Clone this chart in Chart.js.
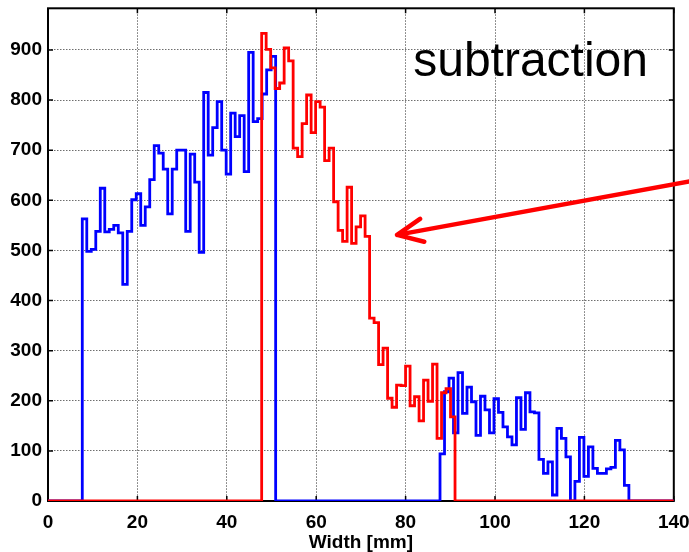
<!DOCTYPE html>
<html lang="en">
<head>
<meta charset="UTF-8">
<title>Width profile - subtraction</title>
<script src="https://cdn.jsdelivr.net/npm/chart.js@4.4.0/dist/chart.umd.min.js"></script>
<style>
  html, body { margin: 0; padding: 0; background: #fff; }
  canvas { display: block; }
</style>
</head>
<body>
<canvas id="profile" width="689" height="552"></canvas>
<script>
// histogram bins, widths in mm
const binWidth = 1.006;
const blueStartA = 7.67;
const blueStartB = 87.7;
const redStart = 47.8;

// counts per bin
const blueA = [563, 498, 502, 538, 624, 537, 542, 550, 535, 432, 538, 601, 613, 550, 587, 641, 709, 694, 662, 573, 662, 700,
  700, 538, 692, 636, 496, 815, 690, 745, 797, 700, 652, 774, 727, 769, 657, 895, 757, 763, 812, 860, 887];
const blueB = [94, 218, 245, 136, 256, 175, 227, 198, 131, 209, 182, 136, 204, 177, 148, 128, 112, 206, 143, 216, 178,
  176, 83, 55, 78, 12, 145, 125, 88, 0, 39, 127, 49, 108, 65, 55, 55, 64, 67, 121, 102, 31];
const red = [933, 901, 864, 823, 834, 904, 878, 704, 687, 753, 810, 735, 797, 786, 679, 704, 597, 540, 518, 626, 514,
  547, 569, 528, 365, 356, 272, 305, 205, 187, 231, 230, 269, 190, 208, 160, 241, 199, 273, 125, 216, 224, 168];

const xTicks = [0, 20, 40, 60, 80, 100, 120, 140];
const yTicks = [0, 100, 200, 300, 400, 500, 600, 700, 800, 900];
const xMax = 140;
const yMax = 983;

const labelFont = { family: '"Liberation Sans", Arial, sans-serif', size: 19, weight: 'bold', lineHeight: 1 };

// turn runs of bins into step points (left edge of each bin), zero elsewhere
function histPoints(runs) {
  const pts = [{ x: 0, y: 0 }];
  runs.forEach(r => {
    r.values.forEach((v, i) => pts.push({ x: r.start + i * binWidth, y: v }));
    pts.push({ x: r.start + r.values.length * binWidth, y: 0 });
  });
  pts.push({ x: xMax, y: 0 });
  return pts;
}

// box round the axes with inward ticks, like the old matlab plots
const axesBox = {
  id: 'axesBox',
  beforeDatasetsDraw(chart) {
    const { ctx, chartArea: a, scales: { x, y } } = chart;
    ctx.save();
    ctx.strokeStyle = '#000';
    ctx.lineWidth = 2;
    ctx.strokeRect(a.left, a.top, a.right - a.left, a.bottom - a.top);
    ctx.lineWidth = 1.5;
    ctx.beginPath();
    xTicks.forEach(v => {
      const px = x.getPixelForValue(v);
      ctx.moveTo(px, a.bottom); ctx.lineTo(px, a.bottom - 5);
      ctx.moveTo(px, a.top); ctx.lineTo(px, a.top + 5);
    });
    yTicks.forEach(v => {
      const py = y.getPixelForValue(v);
      ctx.moveTo(a.left, py); ctx.lineTo(a.left + 5, py);
      ctx.moveTo(a.right, py); ctx.lineTo(a.right - 5, py);
    });
    ctx.stroke();
    ctx.restore();
  },
  afterDraw(chart) {
    const { ctx, scales: { x, y } } = chart;
    ctx.save();
    ctx.fillStyle = '#000';
    ctx.font = '48px "Liberation Sans", Arial, sans-serif';
    ctx.textBaseline = 'alphabetic';
    ctx.fillText('subtraction', x.getPixelForValue(81.7), y.getPixelForValue(848));

    // arrow pointing at the red curve
    const tx = x.getPixelForValue(78.1), ty = y.getPixelForValue(531);
    const sx = x.getPixelForValue(145), sy = y.getPixelForValue(640);
    const ang = Math.atan2(sy - ty, sx - tx);
    ctx.strokeStyle = '#ff0000';
    ctx.lineWidth = 4.5;
    ctx.lineCap = 'round';
    ctx.beginPath();
    ctx.moveTo(sx, sy);
    ctx.lineTo(tx, ty);
    [-0.43, 0.43].forEach(d => {
      ctx.moveTo(tx, ty);
      ctx.lineTo(tx + 28 * Math.cos(ang + d), ty + 28 * Math.sin(ang + d));
    });
    ctx.stroke();
    ctx.restore();
  }
};

new Chart(document.getElementById('profile'), {
  type: 'line',
  data: {
    datasets: [
      {
        label: 'after subtraction',
        data: histPoints([{ start: redStart, values: red }]),
        borderColor: '#ff0000',
        borderWidth: 2.8,
        stepped: true,
        pointRadius: 0,
        fill: false
      },
      {
        label: 'measured',
        data: histPoints([{ start: blueStartA, values: blueA }, { start: blueStartB, values: blueB }]),
        borderColor: '#0000ff',
        borderWidth: 2.8,
        stepped: true,
        pointRadius: 0,
        fill: false
      }
    ]
  },
  options: {
    responsive: false,
    animation: false,
    layout: { padding: { top: 8.3, right: 15.2, left: 0, bottom: 0 } },
    plugins: { legend: { display: false }, tooltip: { enabled: false } },
    scales: {
      x: {
        type: 'linear',
        min: 0,
        max: xMax,
        afterBuildTicks: s => { s.ticks = xTicks.map(v => ({ value: v })); },
        afterFit: s => { s.height = 51; s.paddingLeft = 0; s.paddingRight = 0; },
        grid: { color: '#6e6e6e', lineWidth: 1, drawTicks: false },
        border: { display: false, dash: [1.5, 1.5] },
        ticks: { color: '#000', font: labelFont, padding: 12, maxRotation: 0 },
        title: { display: true, text: 'Width [mm]', color: '#000', font: labelFont, padding: 0 }
      },
      y: {
        min: 0,
        max: yMax,
        afterBuildTicks: s => { s.ticks = yTicks.map(v => ({ value: v })); },
        afterFit: s => { s.width = 48; s.paddingTop = 0; s.paddingBottom = 0; },
        grid: { color: '#6e6e6e', lineWidth: 1, drawTicks: false },
        border: { display: false, dash: [1.5, 1.5] },
        ticks: { color: '#000', font: labelFont, padding: 6 }
      }
    }
  },
  plugins: [axesBox]
});
</script>
</body>
</html>
